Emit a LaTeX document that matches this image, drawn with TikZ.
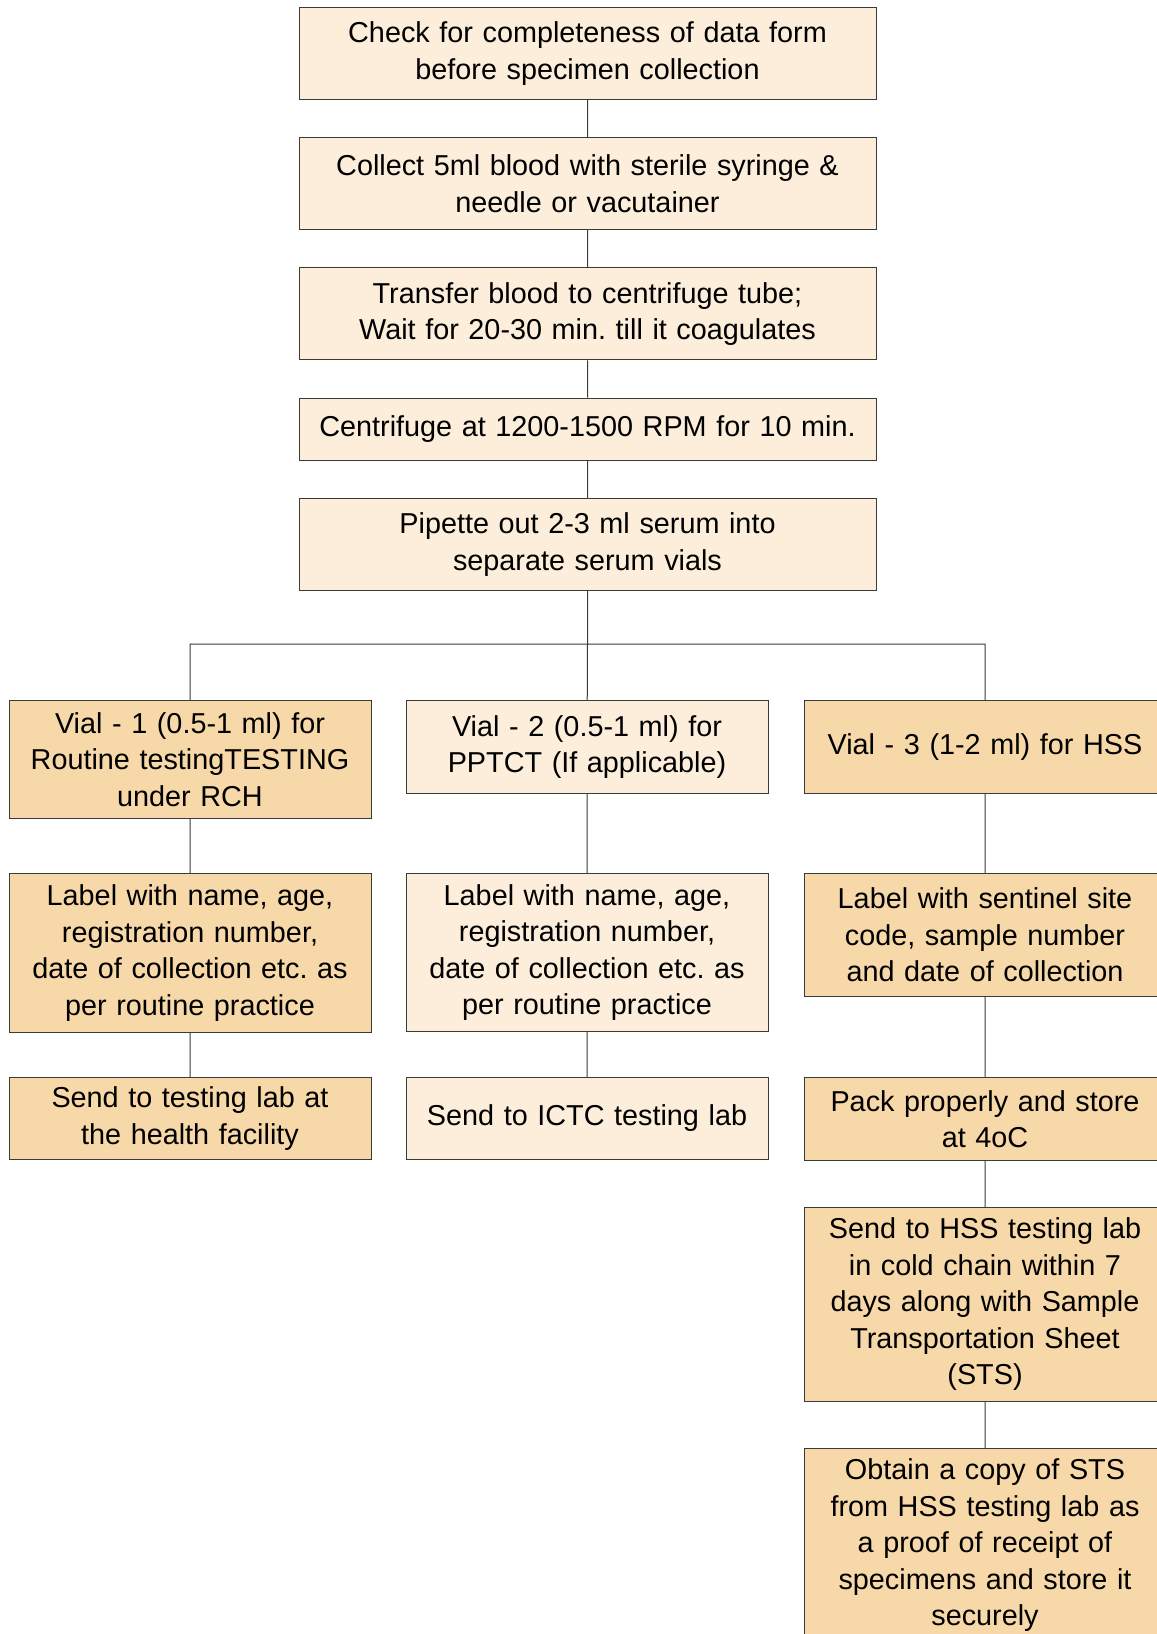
\documentclass[tikz,border=0pt]{standalone}
\usepackage{fontspec}
\setmainfont{Liberation Sans}
\usetikzlibrary{positioning}
\definecolor{palefill}{HTML}{FCEEDA}
\definecolor{darkfill}{HTML}{F7D8A8}
\definecolor{edgegray}{HTML}{3A3A3A}
\frenchspacing

\begin{document}
\begin{tikzpicture}[x=0.5pt,y=-0.5pt,
    every node/.style={font=\fontsize{14.4pt}{18.25pt}\selectfont,align=center,inner xsep=4pt,inner ysep=2pt},
    widebox/.style={draw=edgegray,line width=0.5pt,fill=palefill,text width=280.5pt,minimum height=46pt},
    palebox/.style={draw=edgegray,line width=0.5pt,fill=palefill,text width=173pt,minimum height=46.5pt},
    darkbox/.style={palebox,fill=darkfill},
    link/.style={draw=edgegray,line width=0.5pt}]
  \useasboundingbox (0,0) rectangle (1157,1634);

  % main chain
  \node[widebox,anchor=north](check) at (587.5,7) {Check for completeness of data form\\before specimen collection};
  \node[widebox,below=18.6pt of check](collect) {Collect 5ml blood with sterile syringe \&\\needle or vacutainer};
  \node[widebox,below=18.6pt of collect](transfer) {Transfer blood to centrifuge tube;\\Wait for 20-30 min. till it coagulates};
  \node[widebox,below=18.6pt of transfer,minimum height=31pt](spin) {Centrifuge at 1200-1500 RPM for 10 min.};
  \node[widebox,below=18.6pt of spin](pipette) {Pipette out 2-3 ml serum into\\separate serum vials};
  \coordinate (fork) at (587.5,644);

  % the three vials
  \node[darkbox,anchor=north,minimum height=59pt](vialA) at (190,700) {Vial - 1 (0.5-1 ml) for\\Routine testingTESTING\\under RCH};
  \node[palebox,anchor=north](vialB) at (587,700) {Vial - 2 (0.5-1 ml) for\\PPTCT (If applicable)};
  \node[darkbox,anchor=north](vialC) at (985,700) {Vial - 3 (1-2 ml) for HSS};

  \node[darkbox,anchor=north,minimum height=79.5pt](labelA) at (190,873) {Label with name, age,\\registration number,\\date of collection etc. as\\per routine practice};
  \node[palebox,anchor=north,minimum height=79pt](labelB) at (587,873) {Label with name, age,\\registration number,\\date of collection etc. as\\per routine practice};
  \node[darkbox,anchor=north,minimum height=61.5pt](labelC) at (985,873) {Label with sentinel site\\code, sample number\\and date of collection};

  \node[darkbox,anchor=north,minimum height=41pt](sendA) at (190,1077) {Send to testing lab at\\the health facility};
  \node[palebox,anchor=north,minimum height=41pt](sendB) at (587,1077) {Send to ICTC testing lab};
  \node[darkbox,anchor=north,minimum height=41.5pt](pack) at (985,1077) {Pack properly and store\\at 4oC};
  \node[darkbox,below=23pt of pack,minimum height=97pt](sendC) {Send to HSS testing lab\\in cold chain within 7\\days along with Sample\\Transportation Sheet\\(STS)};
  \node[darkbox,below=23pt of sendC,minimum height=97pt](receipt) {Obtain a copy of STS\\from HSS testing lab as\\a proof of receipt of\\specimens and store it\\securely};

  \path[link]
    (check) -- (collect)
    (collect) -- (transfer)
    (transfer) -- (spin)
    (spin) -- (pipette)
    (pipette) -- (fork)
    (fork) -- (vialB)
    (vialA.north) |- (fork) -| (vialC.north)
    (vialA) -- (labelA)
    (labelA) -- (sendA)
    (vialB) -- (labelB)
    (labelB) -- (sendB)
    (vialC) -- (labelC)
    (labelC) -- (pack)
    (pack) -- (sendC)
    (sendC) -- (receipt)
  ;
\end{tikzpicture}
\end{document}
